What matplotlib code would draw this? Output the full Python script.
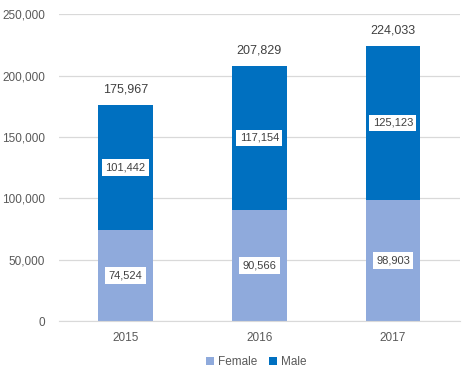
import numpy as np
import matplotlib
matplotlib.use("Agg")
import matplotlib.pyplot as plt

years = ["2015", "2016", "2017"]
female = [74524, 90566, 98903]
male = [101442, 117154, 125123]
totals = [175967, 207829, 224033]

FEMALE_C, MALE_C, TXT, GRID = "#8FAADC", "#0070C0", "#595959", "#D9D9D9"
plt.rcParams["font.family"] = ["Liberation Sans", "DejaVu Sans"]

fig = plt.figure(figsize=(4.74, 3.81), dpi=100)
ax = fig.add_axes([0.124, 0.157, 0.846, 0.806])
x = np.arange(len(years))
w = 0.41
ax.bar(x, female, w, color=FEMALE_C, label="Female", zorder=2)
ax.bar(x, male, w, bottom=female, color=MALE_C, label="Male", zorder=2)

box = dict(boxstyle="square,pad=0.3", fc="white", ec="none")
for i in range(len(years)):
    ax.text(x[i], female[i] / 2, f"{female[i]:,}", ha="center", va="center",
            fontsize=8, color="#404040", bbox=box, zorder=3)
    ax.text(x[i], female[i] + male[i] / 2, f"{male[i]:,}", ha="center", va="center",
            fontsize=8, color="#404040", bbox=box, zorder=3)
    ax.text(x[i], totals[i] + 8000, f"{totals[i]:,}", ha="center", va="bottom",
            fontsize=9, color="#404040", zorder=3)

ax.set_xlim(-0.5, 2.5)
ax.set_ylim(0, 250000)
ax.set_yticks(np.arange(0, 250001, 50000))
ax.set_yticklabels([f"{v:,}" for v in range(0, 250001, 50000)])
ax.set_xticks(x)
ax.set_xticklabels(years)
ax.tick_params(length=0, colors=TXT, labelsize=8.5, pad=8)
ax.tick_params(axis="y", pad=10)
ax.yaxis.grid(True, color=GRID, lw=0.9, zorder=0)
for s in ["top", "right", "left"]:
    ax.spines[s].set_visible(False)
ax.spines["bottom"].set_color(GRID)

leg = fig.legend(loc="center", bbox_to_anchor=(0.54, 0.05), ncol=2, frameon=False,
                 fontsize=8.5, handlelength=0.7, handleheight=0.7, handletextpad=0.3,
                 columnspacing=1.0)
for t in leg.get_texts():
    t.set_color(TXT)

fig.savefig("out.png", dpi=100)
